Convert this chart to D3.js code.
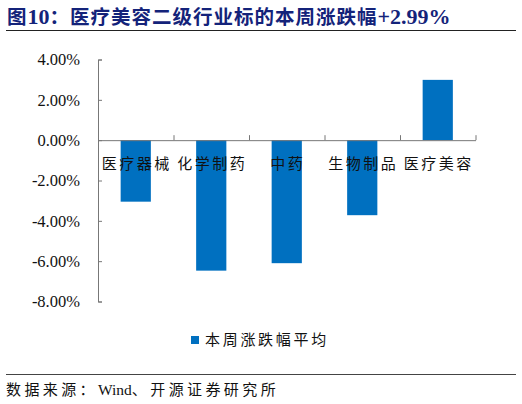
<!DOCTYPE html>
<html>
<head>
<meta charset="utf-8">
<script src="https://cdn.jsdelivr.net/npm/d3@7"></script>
<style>
  body { margin: 0; background: #fff; }
  svg { display: block; }
</style>
</head>
<body>
<svg id="chart" width="522" height="404"></svg>
<script>
// data
var categories = ['医疗器械', '化学制药', '中药', '生物制品', '医疗美容'];
var weekChange = [-3.05, -6.47, -6.10, -3.72, 2.99];
var yTicks = [4, 2, 0, -2, -4, -6, -8];
var seriesName = '本周涨跌幅平均';
var titleParts = [['图', 'c'], ['10', 'l'], ['：医疗美容二级行业标的本周涨跌幅', 'c'], ['+2.99%', 'l']];
var sourceParts = [['数据来源：', 'c'], ['Wind', 'l'], ['、开源证券研究所', 'c']];

var cjk = '"Noto Sans CJK SC", sans-serif';
var latin = '"Liberation Serif", serif';
var svg = d3.select('#chart');

// title: CJK and latin runs sized separately
svg.append('text')
  .attr('x', 7).attr('y', 24)
  .attr('font-weight', 'bold')
  .attr('fill', '#14237a')
  .selectAll('tspan')
  .data(titleParts)
  .join('tspan')
  .attr('font-family', function (d) { return d[1] === 'c' ? cjk : latin; })
  .attr('font-size', function (d) { return d[1] === 'c' ? 19.5 : 22; })
  .attr('letter-spacing', function (d) { return d[1] === 'c' ? 1 : 0; })
  .text(function (d) { return d[0]; });

svg.append('line').attr('x1', 6).attr('x2', 516).attr('y1', 30.5).attr('y2', 30.5)
  .attr('stroke', '#222').attr('stroke-width', 1.2);
svg.append('line').attr('x1', 6).attr('x2', 516).attr('y1', 374.5).attr('y2', 374.5)
  .attr('stroke', '#444').attr('stroke-width', 1.2);

var x = d3.scaleBand().domain(categories).range([98, 475.5]).paddingInner(0.6).paddingOuter(0.3);
var y = d3.scaleLinear().domain([-8, 4]).range([301.5, 59.5]);

// bars
svg.append('g').selectAll('rect')
  .data(weekChange)
  .join('rect')
  .attr('x', function (d, i) { return x(categories[i]); })
  .attr('width', x.bandwidth())
  .attr('y', function (d) { return y(Math.max(0, d)); })
  .attr('height', function (d) { return Math.abs(y(d) - y(0)); })
  .attr('fill', '#0070c0');

// y axis, ticks point inward
var yAxis = d3.axisLeft(y).tickValues(yTicks).tickSize(-4).tickPadding(18)
  .tickFormat(function (d) { return d.toFixed(2) + '%'; });
var gy = svg.append('g').attr('transform', 'translate(98,0)').call(yAxis);
gy.select('.domain').attr('stroke', '#777');
gy.selectAll('.tick line').attr('stroke', '#777');
gy.selectAll('.tick text')
  .attr('font-family', latin)
  .attr('font-size', 16.5)
  .attr('fill', '#111');

// x axis along zero line, ticks at band edges pointing up
var edges = categories.map(function (c) { return x(c) - x.step() * x.paddingInner() / 2; });
edges.push(475.5);
var xEdge = d3.scaleLinear().domain([98, 475.5]).range([98, 475.5]);
var gx = svg.append('g').attr('transform', 'translate(0,' + y(0) + ')')
  .call(d3.axisBottom(xEdge).tickValues(edges.slice(1)).tickSize(-5).tickSizeOuter(0).tickFormat(''));
gx.select('.domain').attr('stroke', '#777');
gx.selectAll('.tick line').attr('stroke', '#777');

// category labels under the zero line
svg.append('g').selectAll('text')
  .data(categories)
  .join('text')
  .attr('x', function (c) { return x(c) + x.bandwidth() / 2 + 1; })
  .attr('y', 169)
  .attr('text-anchor', 'middle')
  .attr('font-family', cjk)
  .attr('font-size', 15)
  .attr('letter-spacing', 2.5)
  .attr('fill', '#111')
  .text(function (c) { return c; });

// legend
svg.append('rect').attr('x', 191).attr('y', 336).attr('width', 8).attr('height', 8).attr('fill', '#0070c0');
svg.append('text')
  .attr('x', 205).attr('y', 345)
  .attr('font-family', cjk)
  .attr('font-size', 15)
  .attr('letter-spacing', 2.7)
  .attr('fill', '#111')
  .text(seriesName);

// source
svg.append('text')
  .attr('x', 6).attr('y', 395)
  .attr('fill', '#111')
  .selectAll('tspan')
  .data(sourceParts)
  .join('tspan')
  .attr('font-family', function (d) { return d[1] === 'c' ? cjk : latin; })
  .attr('font-size', function (d) { return d[1] === 'c' ? 15 : 15.5; })
  .attr('letter-spacing', function (d) { return d[1] === 'c' ? 3.4 : 0; })
  .text(function (d) { return d[0]; });
</script>
</body>
</html>
